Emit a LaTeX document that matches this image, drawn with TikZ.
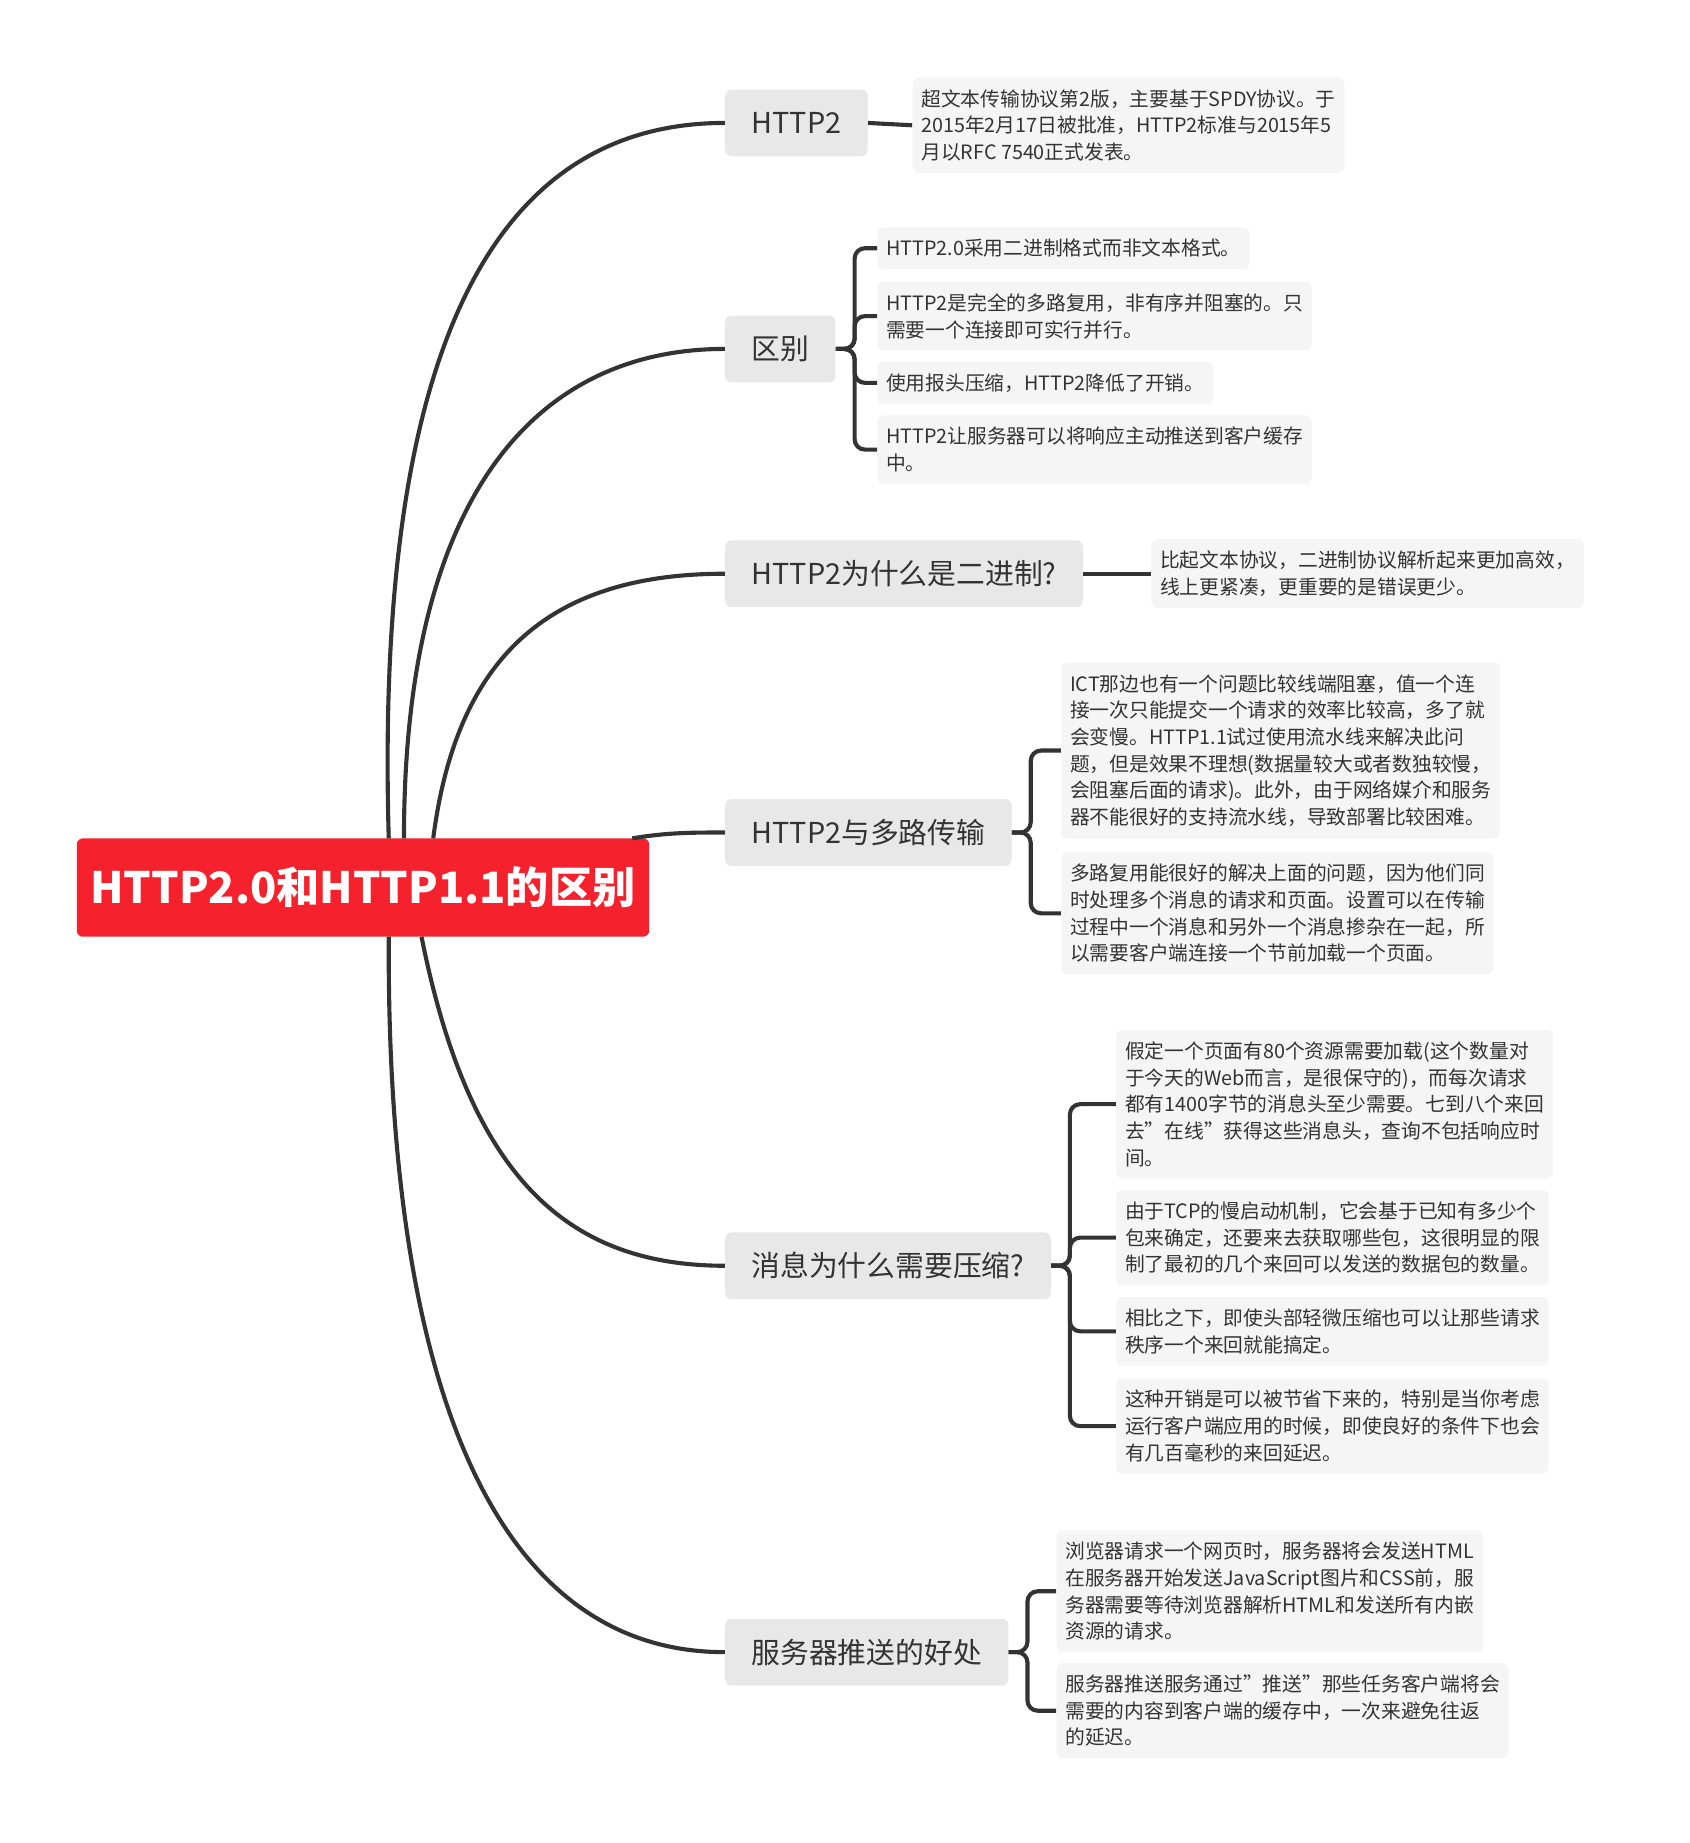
\documentclass[tikz,border=0pt]{standalone}
\usepackage{fontspec}
\setmainfont{Noto Sans CJK SC}
\usetikzlibrary{positioning}
\definecolor{rootred}{HTML}{F5222D}
\definecolor{branchgray}{HTML}{E8E8E8}
\definecolor{leafgray}{HTML}{F5F5F5}
\definecolor{linkgray}{HTML}{333333}
\begin{document}
\begin{tikzpicture}[x=0.02cm, y=-0.02cm]

        % Setup the styles
        \tikzset{root style/.style={fill=rootred, text=white, rounded corners=3pt,
                                    font=\fontsize{21}{24}\selectfont\bfseries,
                                    minimum width=9.78cm, minimum height=1.68cm},
                 branch style/.style={fill=branchgray, rounded corners=3pt, anchor=west,
                                      text=black!80, font=\fontsize{14}{17}\selectfont,
                                      minimum height=1.14cm, inner xsep=0.45cm},
                 leaf style/.style={fill=leafgray, rounded corners=3pt, anchor=west,
                                    align=left, text=black!80,
                                    font=\fontsize{9.6}{13}\selectfont,
                                    inner xsep=0.15cm, inner ysep=0.2cm},
                 link/.style={draw=linkgray, line width=2pt}}

        \useasboundingbox (0,0) rectangle (1443,1574);

        % Root
        \node[root style] at (310,758) (root) {HTTP2.0和HTTP1.1的区别};

        % Branches
        \node[branch style] at (619,105)  (b1) {HTTP2};
        \node[branch style] at (619,298)  (b2) {区别};
        \node[branch style] at (619,490)  (b3) {HTTP2为什么是二进制?};
        \node[branch style] at (619,711)  (b4) {HTTP2与多路传输};
        \node[branch style] at (619,1081) (b5) {消息为什么需要压缩?};
        \node[branch style] at (619,1411) (b6) {服务器推送的好处};

        % Leaves
        \node[leaf style] at (779,107) (l1) {超文本传输协议第2版，主要基于SPDY协议。于\\2015年2月17日被批准，HTTP2标准与2015年5\\月以RFC 7540正式发表。};
        \node[leaf style] at (749,212) (l21) {HTTP2.0采用二进制格式而非文本格式。};
        \node[leaf style] at (749,270) (l22) {HTTP2是完全的多路复用，非有序并阻塞的。只\\需要一个连接即可实行并行。};
        \node[leaf style] at (749,327) (l23) {使用报头压缩，HTTP2降低了开销。};
        \node[leaf style] at (749,384) (l24) {HTTP2让服务器可以将响应主动推送到客户缓存\\中。};
        \node[leaf style] at (983,490) (l3) {比起文本协议，二进制协议解析起来更加高效，\\线上更紧凑，更重要的是错误更少。};
        \node[leaf style] at (906,641) (l41) {ICT那边也有一个问题比较线端阻塞，值一个连\\接一次只能提交一个请求的效率比较高，多了就\\会变慢。HTTP1.1试过使用流水线来解决此问\\题，但是效果不理想(数据量较大或者数独较慢，\\会阻塞后面的请求)。此外，由于网络媒介和服务\\器不能很好的支持流水线，导致部署比较困难。};
        \node[leaf style] at (906,780) (l42) {多路复用能很好的解决上面的问题，因为他们同\\时处理多个消息的请求和页面。设置可以在传输\\过程中一个消息和另外一个消息掺杂在一起，所\\以需要客户端连接一个节前加载一个页面。};
        \node[leaf style] at (953,943) (l51) {假定一个页面有80个资源需要加载(这个数量对\\于今天的Web而言，是很保守的)，而每次请求\\都有1400字节的消息头至少需要。七到八个来回\\去"在线"获得这些消息头，查询不包括响应时\\间。};
        \node[leaf style] at (953,1057) (l52) {由于TCP的慢启动机制，它会基于已知有多少个\\包来确定，还要来去获取哪些包，这很明显的限\\制了最初的几个来回可以发送的数据包的数量。};
        \node[leaf style] at (953,1137) (l53) {相比之下，即使头部轻微压缩也可以让那些请求\\秩序一个来回就能搞定。};
        \node[leaf style] at (953,1218) (l54) {这种开销是可以被节省下来的，特别是当你考虑\\运行客户端应用的时候，即使良好的条件下也会\\有几百毫秒的来回延迟。};
        \node[leaf style] at (902,1359) (l61) {浏览器请求一个网页时，服务器将会发送HTML\\在服务器开始发送JavaScript图片和CSS前，服\\务器需要等待浏览器解析HTML和发送所有内嵌\\资源的请求。};
        \node[leaf style] at (902,1461) (l62) {服务器推送服务通过"推送"那些任务客户端将会\\需要的内容到客户端的缓存中，一次来避免往返\\的延迟。};

        % Root to branches
        \draw[link] (332,716) .. controls (320,300) and (420,105) .. (b1.west);
        \draw[link] (345,716) .. controls (345,420) and (460,298) .. (b2.west);
        \draw[link] (370,716) .. controls (390,560) and (470,490) .. (b3.west);
        \draw[link] (540,716) .. controls (570,711) and (590,711) .. (b4.west);
        \draw[link] (360,800) .. controls (400,1000) and (480,1081) .. (b5.west);
        \draw[link] (332,800) .. controls (330,1200) and (430,1411) .. (b6.west);

        % Branches to leaves
        \draw[link] (b1.east) -- (l1.west);
        \draw[link] (b3.east) -- (l3.west);
        \foreach \b/\l in {b2/l21,b2/l22,b2/l23,b2/l24,b4/l41,b4/l42,
                           b5/l51,b5/l52,b5/l53,b5/l54,b6/l61,b6/l62}
            \draw[link, rounded corners=5pt] (\b.east) -- ++(16,0) |- (\l.west);
    \end{tikzpicture}
\end{document}
